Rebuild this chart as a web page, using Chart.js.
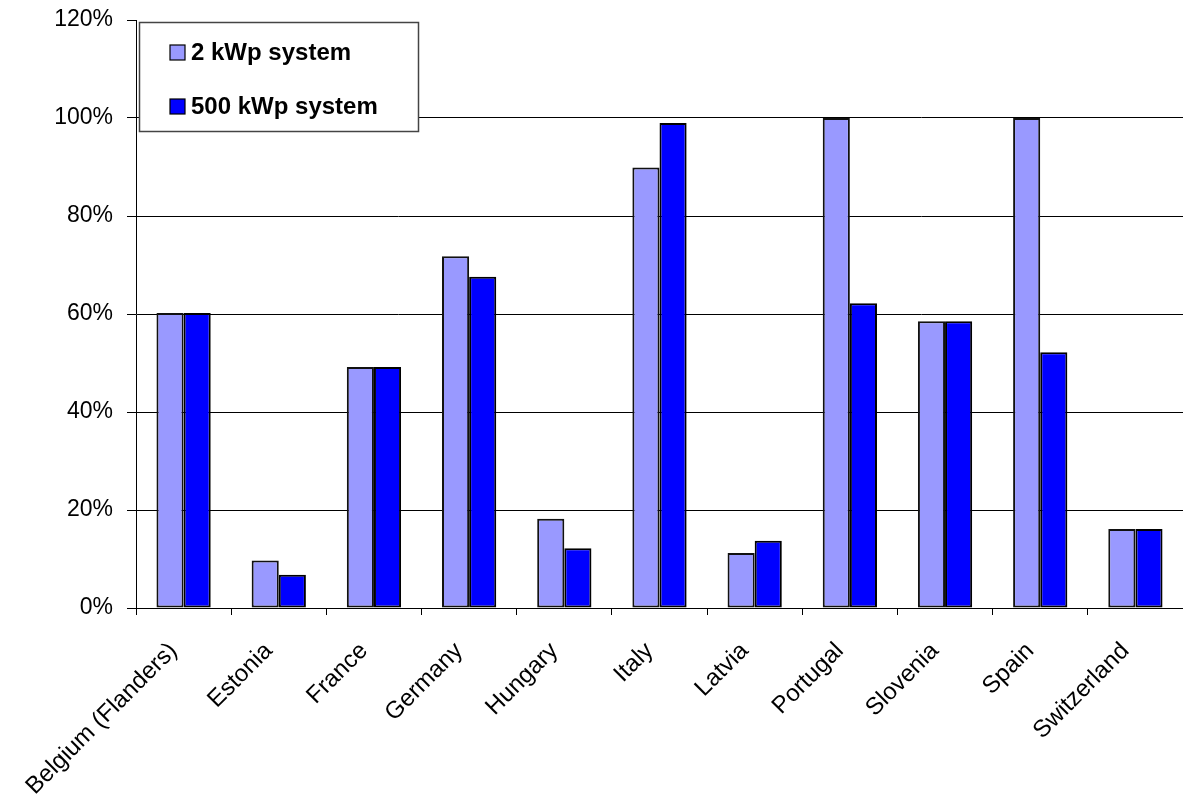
<!DOCTYPE html>
<html>
<head>
<meta charset="utf-8">
<script src="https://cdn.jsdelivr.net/npm/chart.js@4/dist/chart.umd.min.js"></script>
<style>
  html, body { margin: 0; padding: 0; background: #fff; overflow: hidden; }
  #wrap { width: 1183px; height: 803px; }
</style>
</head>
<body>
<div id="wrap"><canvas id="c" width="1183" height="803"></canvas></div>
<script>
// Share of the feed-in tariff / support level by country
const countries = ['Belgium (Flanders)', 'Estonia', 'France', 'Germany', 'Hungary', 'Italy',
                   'Latvia', 'Portugal', 'Slovenia', 'Spain', 'Switzerland'];
const small2kWp = [60.2, 9.7, 49.2, 71.8, 18.2, 89.9, 11.2, 100, 58.5, 100, 16.1];
const large500kWp = [60.2, 6.8, 49.2, 67.6, 12.2, 99.0, 13.7, 62.2, 58.5, 52.2, 16.1];
const seriesNames = ['2 kWp system', '500 kWp system'];
const yTicks = [0, 20, 40, 60, 80, 100, 120];

const FONT = '"Liberation Sans", Arial, sans-serif';

// Legend box drawn inside the plot area, top-left corner
const boxedLegend = {
  id: 'boxedLegend',
  afterDraw(chart) {
    const ctx = chart.ctx;
    const a = chart.chartArea;
    const x = a.left + 3, y = a.top + 2, w = 279, h = 109;
    ctx.save();
    ctx.fillStyle = '#fff';
    ctx.fillRect(x, y, w, h);
    ctx.strokeStyle = '#444';
    ctx.lineWidth = 1.5;
    ctx.strokeRect(x + 0.5, y + 0.5, w, h);
    const rows = [30, 84];
    chart.data.datasets.forEach((ds, i) => {
      const cy = y + rows[i];
      ctx.fillStyle = ds.backgroundColor;
      ctx.fillRect(x + 31, cy - 7, 15, 15);
      ctx.strokeStyle = '#000';
      ctx.lineWidth = 1.2;
      ctx.strokeRect(x + 31, cy - 7, 15, 15);
      ctx.fillStyle = '#000';
      ctx.font = 'bold 24px ' + FONT;
      ctx.textBaseline = 'middle';
      ctx.textAlign = 'left';
      ctx.fillText(ds.label, x + 52, cy + 1);
    });
    ctx.restore();
  }
};

new Chart(document.getElementById('c'), {
  type: 'bar',
  data: {
    labels: countries,
    datasets: [
      { label: seriesNames[0], data: small2kWp, backgroundColor: '#9999FF',
        borderColor: '#111', borderWidth: 2, borderSkipped: false },
      { label: seriesNames[1], data: large500kWp, backgroundColor: '#0000FF',
        borderColor: '#000', borderWidth: 2, borderSkipped: false }
    ]
  },
  options: {
    responsive: false,
    animation: false,
    layout: { padding: { top: 20, right: 0, left: 0, bottom: 0 } },
    datasets: { bar: { categoryPercentage: 0.57, barPercentage: 1.0 } },
    plugins: { legend: { display: false }, tooltip: { enabled: false } },
    scales: {
      x: {
        grid: { offset: true, drawOnChartArea: false, drawTicks: true, tickLength: 7, color: '#000' },
        border: { color: '#000', width: 1 },
        ticks: { color: '#000', font: { family: FONT, size: 24 }, minRotation: 45, maxRotation: 45,
                 autoSkip: false, padding: 22, labelOffset: -10 },
        afterFit(s) {
          s.height = 195;
          s.paddingTop = 0; s.paddingBottom = 0; s.paddingLeft = 0; s.paddingRight = 0;
        }
      },
      y: {
        min: 0, max: 120,
        afterBuildTicks(s) { s.ticks = yTicks.map(v => ({ value: v })); },
        grid: {
          color: c => (c.tick && c.tick.value === 120) ? 'rgba(0,0,0,0)' : '#000',
          tickColor: '#000', tickLength: 9, lineWidth: 1
        },
        border: { color: '#000', width: 1 },
        ticks: { color: '#000', font: { family: FONT, size: 23 }, padding: 14,
                 callback: v => v + '%' },
        afterFit(s) {
          s.width = 136;
          s.paddingTop = 0; s.paddingBottom = 0; s.paddingLeft = 0; s.paddingRight = 0;
        }
      }
    }
  },
  plugins: [boxedLegend]
});
</script>
</body>
</html>
